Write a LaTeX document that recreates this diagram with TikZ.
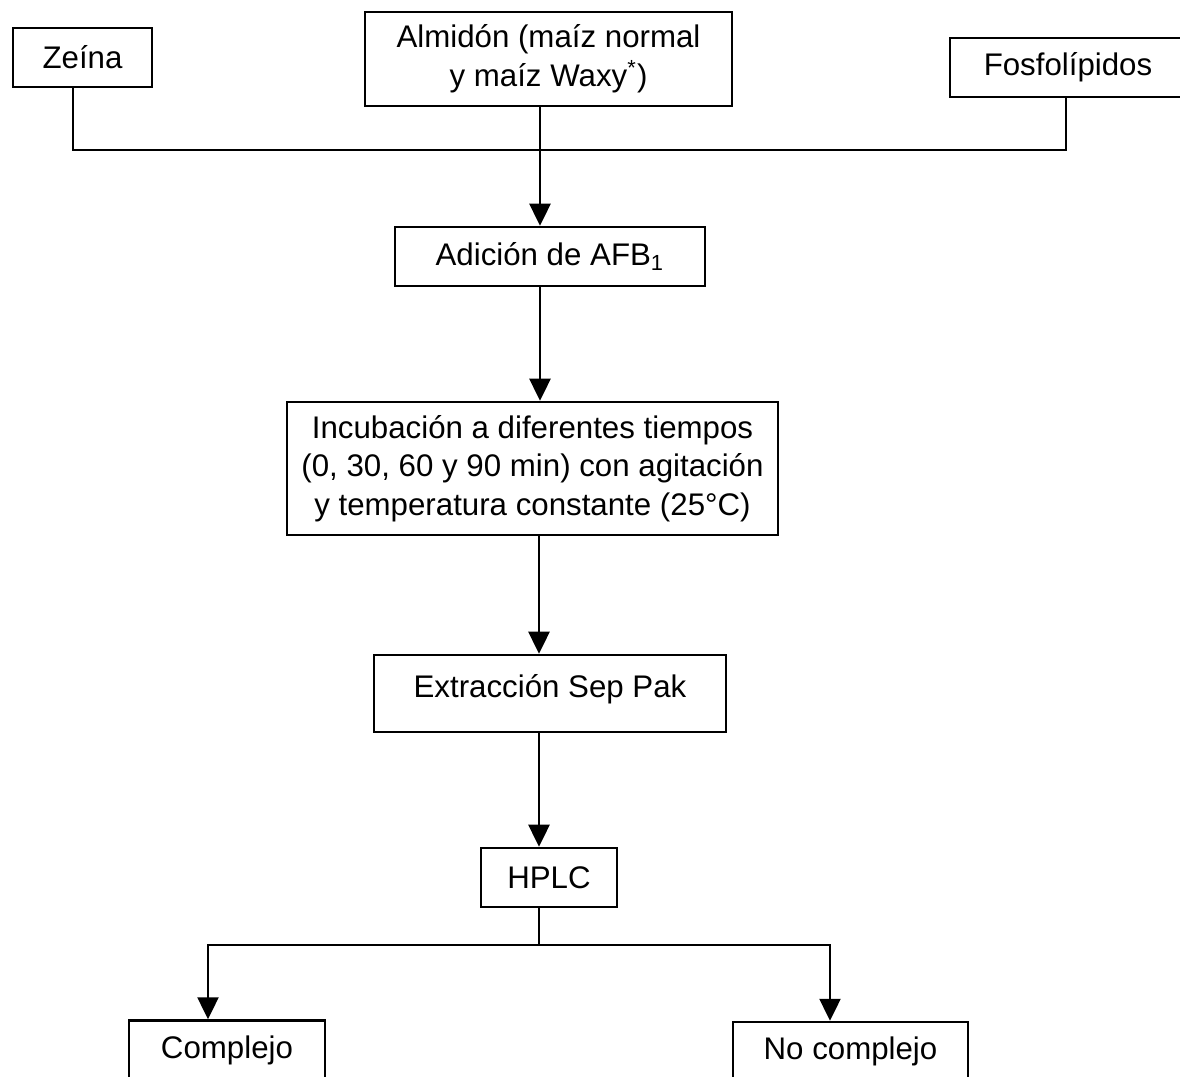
\documentclass[tikz,border=0pt]{standalone}
\usepackage{fontspec}
\setmainfont{Liberation Sans}
\usetikzlibrary{arrows.meta}
\tikzset{
	caja/.style={draw, line width=1pt, inner sep=0pt, align=center, font=\fontsize{12.5}{15.5}\selectfont},
	linea/.style={line width=1pt},
	flecha/.style={line width=1pt, -{Triangle[length=8.8pt,width=8.4pt]}}
}

\begin{document}
\begin{tikzpicture}[x=0.4pt, y=-0.4pt]
			%%%%% START %%%%%
			\useasboundingbox (0, 0) rectangle (1180, 1077);
			
			\node[caja, minimum width=55.6pt, minimum height=23.6pt] (zeina) at (82.5, 57.5) {Zeína};
			\node[caja, minimum width=146.8pt, minimum height=37.6pt] (almidon) at (548.5, 59) {Almidón (maíz normal\\y maíz Waxy\textsuperscript{*})};
			\node[caja, minimum width=94.4pt, minimum height=23.6pt] (fosfo) at (1068, 67.5) {Fosfolípidos};
			
			\node[caja, minimum width=124pt, minimum height=23.6pt] (adicion) at (550, 256.5) {Adición de AFB\textsubscript{1}};
			\node[caja, minimum width=196.4pt, minimum height=53.2pt] (incub) at (532.5, 468.5) {Incubación a diferentes tiempos\\(0, 30, 60 y 90 min) con agitación\\y temperatura constante (25°C)};
			\node[caja, minimum width=140.8pt, minimum height=30.8pt, text depth=6pt] (extrac) at (550, 693.5) {Extracción Sep Pak};
			\node[caja, minimum width=54.4pt, minimum height=23.6pt] (hplc) at (549, 877.5) {HPLC};
			
			\node[caja, minimum width=78.4pt, minimum height=23.6pt] (compl) at (227, 1050) {Complejo};
			\node[caja, minimum width=94pt, minimum height=23.6pt] (nocompl) at (850.5, 1051.5) {No complejo};
			
			\coordinate (union) at (540, 150);
			\coordinate (reparto) at (539, 945);
			
			\draw[linea] ([xshift=-3.8pt]zeina.south) |- (union) -| ([xshift=-0.8pt]fosfo.south);
			\draw[flecha] (almidon.south -| union) -- (adicion.north -| union);
			\draw[flecha] (adicion.south -| union) -- (incub.north -| union);
			\draw[flecha] (incub.south -| reparto) -- (extrac.north -| reparto);
			\draw[flecha] (extrac.south -| reparto) -- (hplc.north -| reparto);
			
			\draw[linea] (hplc.south -| reparto) -- (reparto);
			\draw[flecha] (reparto) -| ([xshift=-7.6pt]compl.north);
			\draw[flecha] (reparto) -| ([xshift=-8.2pt]nocompl.north);
			%%%%% END %%%%%
\end{tikzpicture}
\end{document}
